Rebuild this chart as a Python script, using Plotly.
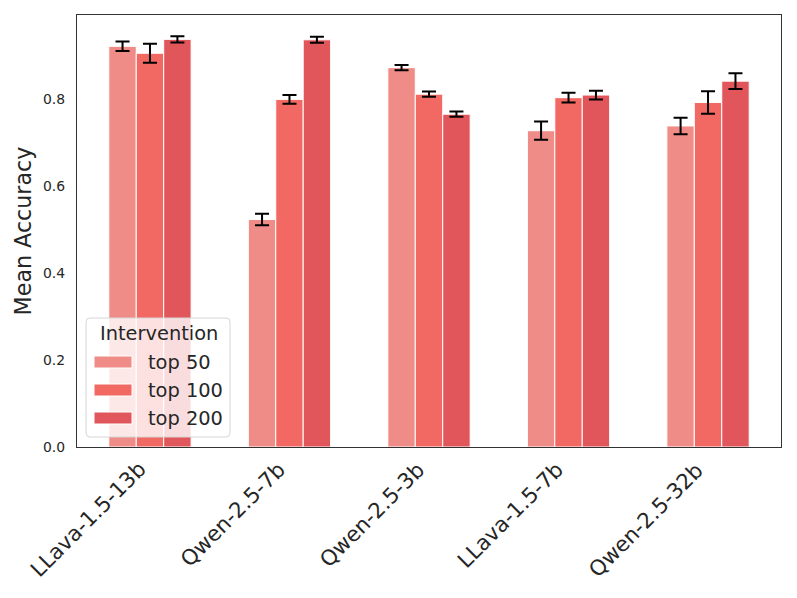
import plotly.graph_objects as go

models = ["LLava-1.5-13b", "Qwen-2.5-7b", "Qwen-2.5-3b", "LLava-1.5-7b", "Qwen-2.5-32b"]
series_names = ["top 50", "top 100", "top 200"]
top50 = [0.921, 0.523, 0.872, 0.727, 0.738]
top50_err = [0.011, 0.013, 0.006, 0.021, 0.019]
top100 = [0.905, 0.799, 0.811, 0.803, 0.792]
top100_err = [0.022, 0.010, 0.006, 0.011, 0.026]
top200 = [0.937, 0.936, 0.765, 0.809, 0.841]
top200_err = [0.007, 0.007, 0.006, 0.010, 0.018]
y_ticks = [0.0, 0.2, 0.4, 0.6, 0.8]

colors = ["#ef8c87", "#f26963", "#e0565a"]
values = [top50, top100, top200]
errors = [top50_err, top100_err, top200_err]

OFF = 8  # default page body margin
W, H = 797 - OFF, 598 - OFF
PW, PH = 704, 432
ML, MT = 77 - OFF, 15 - OFF
MR, MB = W - ML - PW, H - MT - PH


def px_x(px):
    return (px - OFF - ML) / PW


def px_y(py):
    return (MT + PH - (py - OFF)) / PH


fig = go.Figure()
for name, vals, errs, col in zip(series_names, values, errors, colors):
    fig.add_trace(go.Bar(
        x=models, y=vals, name=name,
        marker=dict(color=col, line=dict(color="white", width=1)),
        error_y=dict(type="data", array=errs, visible=True, color="black",
                     thickness=2, width=7),
        hoverinfo="skip", showlegend=False,
    ))

shapes = []
annotations = []

# x tick labels (matplotlib style: rotated 45, right-aligned at tick)
for m in models:
    annotations.append(dict(xref="x", yref="paper", x=m, y=0, text=m,
                            showarrow=False, textangle=-45,
                            xanchor="right", yanchor="top", xshift=3, yshift=-7,
                            font=dict(size=21.3, color="#262626")))

# custom legend
x0, x1, y0, y1, r = 86, 230, 318, 437, 4
rx, ry = r / PW, r / PH
X0, X1, Y0, Y1 = px_x(x0), px_x(x1), px_y(y1), px_y(y0)
path = (f"M {X0+rx},{Y0} L {X1-rx},{Y0} Q {X1},{Y0} {X1},{Y0+ry} "
        f"L {X1},{Y1-ry} Q {X1},{Y1} {X1-rx},{Y1} L {X0+rx},{Y1} "
        f"Q {X0},{Y1} {X0},{Y1-ry} L {X0},{Y0+ry} Q {X0},{Y0} {X0+rx},{Y0} Z")
shapes.append(dict(type="path", xref="paper", yref="paper", path=path,
                   fillcolor="rgba(255,255,255,0.8)",
                   line=dict(color="#d6d6d6", width=1), layer="above"))
annotations.append(dict(xref="paper", yref="paper", x=px_x(159), y=px_y(333),
                        text="Intervention", showarrow=False,
                        font=dict(size=19.4, color="#262626"),
                        xanchor="center", yanchor="middle"))
row_y = [362, 390, 418]
for name, col, cy in zip(series_names, colors, row_y):
    shapes.append(dict(type="rect", xref="paper", yref="paper",
                       x0=px_x(94), x1=px_x(132), y0=px_y(cy + 6), y1=px_y(cy - 6),
                       fillcolor=col, line=dict(color="white", width=1),
                       layer="above"))
    annotations.append(dict(xref="paper", yref="paper", x=px_x(146), y=px_y(cy),
                            text=name, showarrow=False,
                            font=dict(size=19.4, color="#262626"),
                            xanchor="left", yanchor="middle"))

fig.update_layout(
    width=W, height=H,
    margin=dict(l=ML, r=MR, t=MT, b=MB, autoexpand=False),
    paper_bgcolor="white", plot_bgcolor="white",
    barmode="group", bargap=0.41, bargroupgap=0.0,
    font=dict(family="DejaVu Sans", color="#262626"),
    showlegend=False,
    shapes=shapes, annotations=annotations,
)
fig.update_xaxes(
    range=[-0.523, 4.523], showticklabels=False,
    showline=True, linecolor="#333333", linewidth=1.2, mirror=True,
    ticks="", showgrid=False, automargin=False,
)
fig.update_yaxes(
    range=[0, 0.993], tickvals=y_ticks, ticktext=[f"{v:.1f}" for v in y_ticks],
    tickfont=dict(size=13.9), showline=True, linecolor="#333333", linewidth=1.2,
    mirror=True, ticks="", showgrid=False, zeroline=False, automargin=False,
    ticklabelstandoff=8,
    title=dict(text="Mean Accuracy", font=dict(size=22.2), standoff=5),
)

fig.write_html("out.html")
